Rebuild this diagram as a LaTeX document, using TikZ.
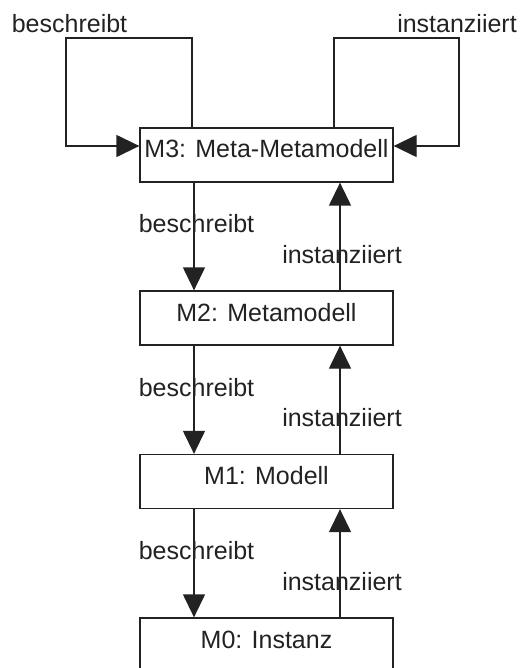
\documentclass[tikz,border=0pt]{standalone}
\usepackage{fontspec}
\setmainfont{Liberation Sans}
\usetikzlibrary{arrows.meta}
\definecolor{ink}{RGB}{34,34,34}
\begin{document}
\begin{tikzpicture}[x=1pt,y=-1pt,
  box/.style={draw=ink, line width=1.3pt, minimum width=253pt, minimum height=54pt,
    inner sep=0pt, text height=18pt, text depth=12pt, text=ink, font=\fontsize{25}{30}\selectfont},
  lbl/.style={anchor=base, inner sep=0pt, text=ink, font=\fontsize{25}{30}\selectfont},
  conn/.style={draw=ink, line width=1.3pt, -{Triangle[length=23pt,width=22pt]}}]
\useasboundingbox (0,0) rectangle (531,668);
\clip (0,0) rectangle (531,668);

\node[box] (M3) at (266.5,155) {M3: Meta-Metamodell};
\node[box] (M2) at (266.5,318) {M2: Metamodell};
\node[box] (M1) at (266.5,481.5) {M1: Modell};
\node[box] (M0) at (266.5,645) {M0: Instanz};

\coordinate (L) at (192,0);
\coordinate (R) at (334,0);
\coordinate (D) at (194,0);
\coordinate (U) at (340,0);
\coordinate (lc) at (66,38);
\coordinate (rc) at (459,38);
\coordinate (ly) at (0,146);

\draw[conn] (L |- M3.north) -- (L |- lc) -- (lc) -- (lc |- ly) -- (M3.west |- ly);
\draw[conn] (R |- M3.north) -- (R |- rc) -- (rc) -- (rc |- ly) -- (M3.east |- ly);

\draw[conn] (D |- M3.south) -- (D |- M2.north);
\draw[conn] (D |- M2.south) -- (D |- M1.north);
\draw[conn] (D |- M1.south) -- (D |- M0.north);
\draw[conn] (U |- M2.north) -- (U |- M3.south);
\draw[conn] (U |- M1.north) -- (U |- M2.south);
\draw[conn] (U |- M0.north) -- (U |- M1.south);

\node[lbl] (b0) at (69.5,33) {beschreibt};
\node[lbl] (i0) at (457,33) {instanziiert};
\node[lbl] (b1) at (196.5,232) {beschreibt};
\node[lbl] (i1) at (342,263) {instanziiert};
\node[lbl] (b2) at (196.5,396) {beschreibt};
\node[lbl] (i2) at (342,426) {instanziiert};
\node[lbl] (b3) at (196.5,559) {beschreibt};
\node[lbl] (i3) at (342,590) {instanziiert};
\end{tikzpicture}
\end{document}
